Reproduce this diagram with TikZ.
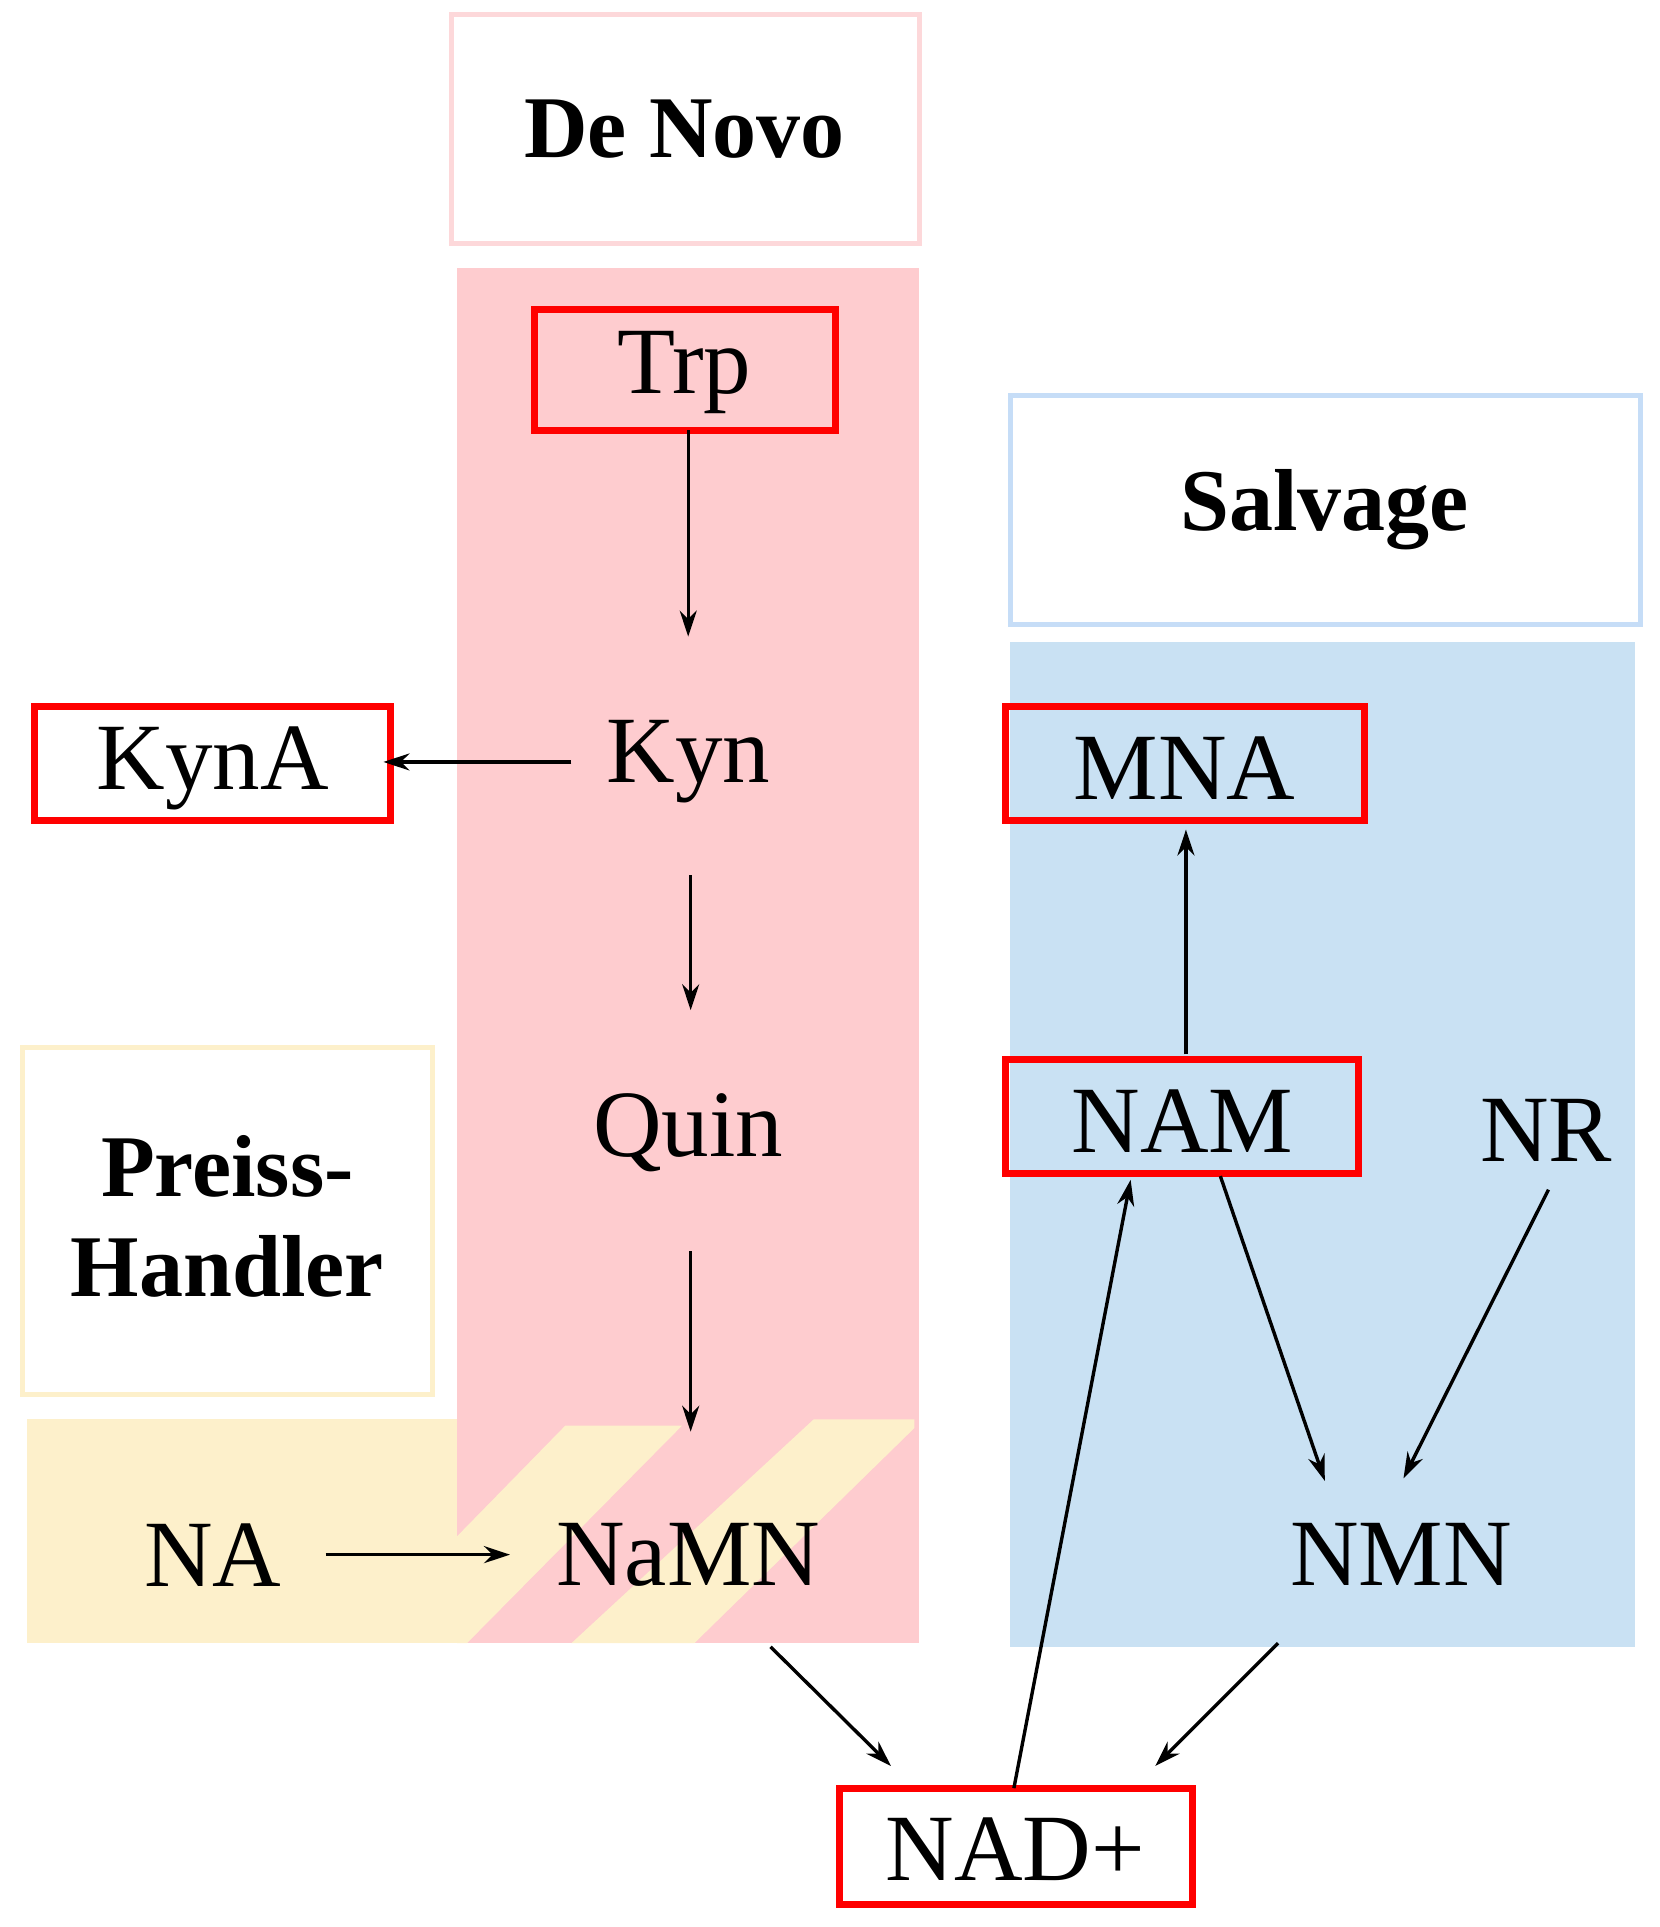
\documentclass[tikz,border=0pt]{standalone}
\usepackage{fontspec}
\setmainfont{Liberation Serif}
\usetikzlibrary{arrows.meta}
\definecolor{pk}{HTML}{FECCCF}
\definecolor{bl}{HTML}{C9E1F3}
\definecolor{yl}{HTML}{FDF0CB}
\definecolor{pkb}{HTML}{FDD8DA}
\definecolor{blb}{HTML}{C6DDF7}
\definecolor{ylb}{HTML}{FDF0CB}
\begin{document}
\begin{tikzpicture}[x=1.229pt,y=-1.229pt,
 lab/.style={font=\fontsize{95}{95}\selectfont,inner sep=0pt},
 ttl/.style={font=\fontsize{88}{100}\selectfont\bfseries,align=center,inner sep=0pt},
 rbox/.style={draw=red,line width=7pt},
 arr/.style={line width=3.4pt,-{Stealth[length=26pt,width=17pt]}}]
\useasboundingbox (0,0) rectangle (1350,1568);
% backgrounds
\fill[pk] (372,218) rectangle (748,1337);
\fill[bl] (822,522) rectangle (1330,1340);
\fill[yl] (22,1155) rectangle (372,1337);
\fill[yl] (372,1250) -- (460,1160) -- (555,1160) -- (380,1337) -- (372,1337) -- cycle;
\fill[yl] (662,1155) -- (744,1155) -- (744,1162) -- (565,1337) -- (465,1337) -- cycle;
% title boxes
\draw[pkb,line width=5pt,fill=white] (367,12) rectangle (748,198);
\node[ttl] (dn) at (557,105) {De Novo};
\draw[blb,line width=5pt,fill=white] (822,322) rectangle (1335,508);
\node[ttl] (sv) at (1078,415) {Salvage};
\draw[ylb,line width=5pt,fill=white] (18,852) rectangle (352,1135);
\node[ttl] (ph) at (185,990) {Preiss-\\Handler};
% red boxes
\draw[rbox] (435,252) rectangle (680,350);
\draw[rbox] (28,575) rectangle (318,668);
\draw[rbox] (818,575) rectangle (1110,668);
\draw[rbox] (818,862) rectangle (1105,955);
\draw[rbox] (683,1455) rectangle (970,1550);
% labels
\node[lab] (trp) at (557,303) {Trp};
\node[lab] (kyna) at (173,625) {KynA};
\node[lab] (kyn) at (560,620) {Kyn};
\node[lab] (quin) at (560,922) {Quin};
\node[lab] (na) at (173,1265) {NA};
\node[lab] (namn) at (560,1265) {NaMN};
\node[lab] (mna) at (964,625) {MNA};
\node[lab] (nam) at (962,912) {NAM};
\node[lab] (nr) at (1258,920) {NR};
\node[lab] (nmn) at (1140,1265) {NMN};
\node[lab] (nad) at (826,1505) {NAD+};
% arrow endpoints
\coordinate (a1) at (560,350); \coordinate (b1) at (560,518);
\coordinate (a2) at (465,620); \coordinate (b2) at (312,620);
\coordinate (a3) at (562,712); \coordinate (b3) at (562,822);
\coordinate (a4) at (562,1018); \coordinate (b4) at (562,1165);
\coordinate (a5) at (265,1265); \coordinate (b5) at (415,1265);
\coordinate (a6) at (965,858); \coordinate (b6) at (965,675);
\coordinate (a7) at (993,957); \coordinate (b7) at (1078,1205);
\coordinate (a8) at (1260,968); \coordinate (b8) at (1142,1203);
\coordinate (a9) at (627,1340); \coordinate (b9) at (725,1437);
\coordinate (a10) at (1040,1337); \coordinate (b10) at (940,1437);
\coordinate (a11) at (825,1455); \coordinate (b11) at (920,960);
\draw[arr] (a1) -- (b1);
\draw[arr] (a2) -- (b2);
\draw[arr] (a3) -- (b3);
\draw[arr] (a4) -- (b4);
\draw[arr] (a5) -- (b5);
\draw[arr] (a6) -- (b6);
\draw[arr] (a7) -- (b7);
\draw[arr] (a8) -- (b8);
\draw[arr] (a9) -- (b9);
\draw[arr] (a10) -- (b10);
\draw[arr] (a11) -- (b11);
\end{tikzpicture}
\end{document}
